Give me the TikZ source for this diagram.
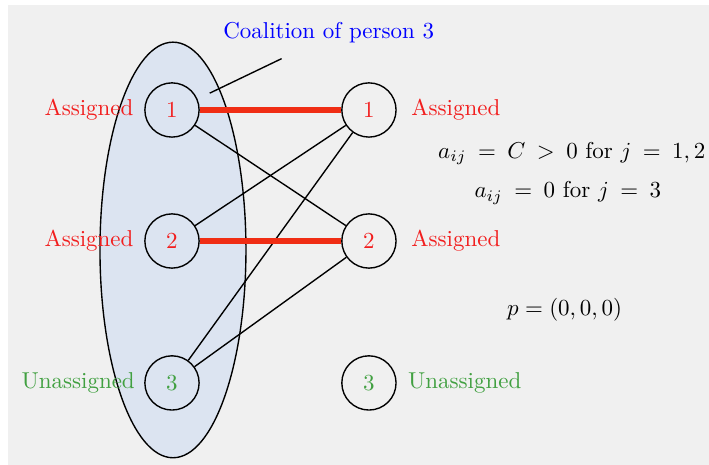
\documentclass[tikz,border=0pt]{standalone}
\definecolor{bgGray}{RGB}{240, 240, 240}
\definecolor{coalFill}{RGB}{220, 228, 241}
\definecolor{asgRed}{RGB}{242, 30, 30}
\definecolor{edgeRed}{RGB}{240, 45, 20}
\definecolor{unGreen}{RGB}{65, 160, 65}
\usepackage{amsmath,amssymb}
\usepackage{tikz}
\usetikzlibrary{positioning, calc, shapes.geometric}

\begin{document}
\begin{tikzpicture}[
    person/.style={circle, draw, semithick, minimum size=0.83cm, inner sep=0pt},
    asg/.style={text=asgRed},
    unasg/.style={text=unGreen},
    match/.style={edgeRed, line width=2.3pt},
    link/.style={semithick},
  ]
    \useasboundingbox (0,0) rectangle (10.85,7.115);
    \fill[bgGray] (0.122,0) rectangle (10.85,7.04);

    % Coalition
    \node[ellipse, draw, semithick, fill=coalFill, minimum width=2.234cm,
          minimum height=6.36cm] (COAL) at (2.647,3.29) {};
    \node[text=blue] (COAL_T) at (5.03,6.62) {Coalition of person 3};
    \coordinate (COAL_P) at (3.21,5.69);
    \draw[semithick] (COAL_P) -- ($(COAL_T.south)+(-0.72,-0.12)$);

    % Left persons
    \node[person, asg] (L1) at (2.632,5.432) {1};
    \node[person, asg] (L2) at (2.632,3.427) {2};
    \node[person, unasg] (L3) at (2.632,1.255) {3};
    \node[asg, left=0.04cm of L1] (L1_T) {Assigned};
    \node[asg, left=0.04cm of L2] (L2_T) {Assigned};
    \node[unasg, left=0.02cm of L3] (L3_T) {Unassigned};

    % Right objects
    \node[person, asg] (R1) at (5.646,5.432) {1};
    \node[person, asg] (R2) at (5.646,3.427) {2};
    \node[person, unasg] (R3) at (5.646,1.255) {3};
    \node[asg, right=0.1cm of R1] (R1_T) {Assigned};
    \node[asg, right=0.1cm of R2] (R2_T) {Assigned};
    \node[unasg, right=0.05cm of R3] (R3_T) {Unassigned};

    % Edges
    \draw[link] (L1) -- (R2);
    \draw[link] (L2) -- (R1);
    \draw[link] (L3) -- (R1);
    \draw[link] (L3) -- (R2);
    \draw[match] (L1) -- (R1);
    \draw[match] (L2) -- (R2);

    % Values
    \node (A_ONE) at (8.75,4.77) {$a_{ij}\:=\:C\:>\:0$ for $j\:=\:1,2$};
    \node (A_TWO) at (8.69,4.16) {$a_{ij}\:=\:0$ for $j\:=\:3$};
    \node (PRICE) at (8.64,2.37) {$p=(0,0,0)$};
  \end{tikzpicture}
\end{document}
